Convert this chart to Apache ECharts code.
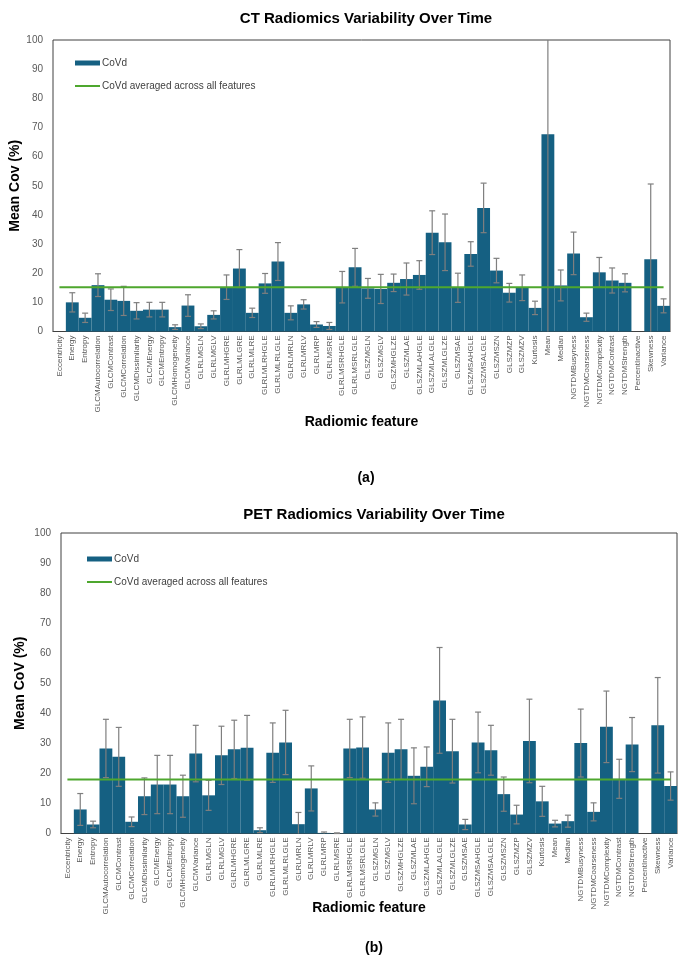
<!DOCTYPE html>
<html>
<head>
<meta charset="utf-8">
<script src="https://cdn.jsdelivr.net/npm/echarts@6/dist/echarts.min.js"></script>
<style>
html,body{margin:0;padding:0;background:#fff;}
#main{width:685px;height:962px;}
</style>
</head>
<body>
<div id="main"></div>
<script>
const categories = ["Eccentricity","Energy","Entropy","GLCMAutocorrelation","GLCMContrast","GLCMCorrelation","GLCMDissimilarity","GLCMEnergy","GLCMEntropy","GLCMHomogeneity","GLCMVariance","GLRLMGLN","GLRLMGLV","GLRLMHGRE","GLRLMLGRE","GLRLMLRE","GLRLMLRHGLE","GLRLMLRLGLE","GLRLMRLN","GLRLMRLV","GLRLMRP","GLRLMSRE","GLRLMSRHGLE","GLRLMSRLGLE","GLSZMGLN","GLSZMGLV","GLSZMHGLZE","GLSZMLAE","GLSZMLAHGLE","GLSZMLALGLE","GLSZMLGLZE","GLSZMSAE","GLSZMSAHGLE","GLSZMSALGLE","GLSZMSZN","GLSZMZP","GLSZMZV","Kurtosis","Mean","Median","NGTDMBusyness","NGTDMCoarseness","NGTDMComplexity","NGTDMContrast","NGTDMStrength","PercentInactive","Skewness","Variance"];

const ctValues = [null,10.0,4.7,15.9,10.9,10.5,7.1,7.5,7.5,1.5,8.9,1.8,5.7,15.2,21.6,6.4,16.5,24.0,6.4,9.3,2.4,1.9,15.2,22.0,14.8,14.6,16.7,18.0,19.4,33.9,30.6,15.0,26.6,42.4,20.9,13.3,15.0,8.1,67.7,15.8,26.8,4.9,20.3,17.5,16.7,null,24.8,8.8];
const ctErr = [null,3.3,1.6,3.9,3.7,5.0,2.8,2.5,2.5,0.8,3.7,0.8,1.4,4.2,6.5,1.6,3.4,6.5,2.4,1.6,1.0,1.2,5.4,6.5,3.4,5.0,3.0,5.5,4.9,7.5,9.7,5.0,4.2,8.5,4.2,3.2,4.4,2.3,70.0,5.3,7.3,1.4,5.1,4.3,3.1,null,25.8,2.4];
const ctAvg = 15.2;

const petValues = [null,8.0,3.0,28.3,25.5,3.9,12.4,16.3,16.3,12.4,26.6,12.7,26.0,28.0,28.5,1.1,26.9,30.3,3.1,15.0,0.2,0.1,28.3,28.6,8.0,26.9,28.0,19.2,22.2,44.3,27.4,3.0,30.3,27.7,13.1,6.3,30.8,10.7,3.3,4.1,30.1,7.2,35.5,18.2,29.6,null,36.0,15.8];
const petErr = [null,5.3,1.1,9.7,9.8,1.6,6.1,9.7,9.7,7.0,9.4,5.0,9.7,9.7,10.8,0.8,9.9,10.7,3.9,7.5,0.3,0.1,9.7,10.2,2.2,9.9,10.0,9.3,6.6,17.6,10.6,1.7,10.1,8.3,5.7,3.1,13.9,5.0,1.1,2.0,11.3,3.0,11.9,6.5,9.0,null,15.9,4.7];
const petAvg = 18.0;

const yTicks = [0,10,20,30,40,50,60,70,80,90,100];

const BAR = '#156082', GREEN = '#4EA72E', ERR = '#7F7F7F', TXT = '#595959';
const FONT = '"Liberation Sans", Arial, sans-serif';
const BAR_NAME = 'CoVd', LINE_NAME = 'CoVd averaged across all features';

function errRender(params, api) {
  const x = api.value(0), v = api.value(1), e = api.value(2);
  let hi = v + e, lo = v - e;
  const hiClip = hi > 100, loClip = lo < 0;
  hi = Math.min(100, hi); lo = Math.max(0, lo);
  const p1 = api.coord([x, hi]), p2 = api.coord([x, lo]);
  const w = 3;
  const style = {stroke: ERR, lineWidth: 1.2};
  const ch = [{type:'line', shape:{x1:p1[0], y1:p1[1], x2:p2[0], y2:p2[1]}, style}];
  if (!hiClip) ch.push({type:'line', shape:{x1:p1[0]-w, y1:p1[1], x2:p1[0]+w, y2:p1[1]}, style});
  if (!loClip) ch.push({type:'line', shape:{x1:p2[0]-w, y1:p2[1], x2:p2[0]+w, y2:p2[1]}, style});
  return {type:'group', children: ch};
}

function errData(vals, errs) {
  const out = [];
  vals.forEach((v, i) => { if (v != null && errs[i] != null) out.push([i, v, errs[i]]); });
  return out;
}

const chart = echarts.init(document.getElementById('main'), null, {renderer:'canvas'});

function xAxisCfg(gi, nameGap) {
  return {
    type:'category', gridIndex: gi, data: categories,
    name: 'Radiomic feature', nameLocation:'middle', nameGap: nameGap, nameMoveOverlap: false,
    nameTextStyle:{fontSize:14, fontWeight:'bold', color:'#000', fontFamily: FONT},
    axisLine:{show:true, lineStyle:{color:'#404040', width:1}},
    axisTick:{show:false},
    axisLabel:{interval:0, rotate:90, fontSize:8, color:TXT, margin:4, fontFamily: FONT},
    splitLine:{show:false}
  };
}
function yAxisCfg(gi, name, nameGap) {
  return {
    type:'value', gridIndex: gi, min: yTicks[0], max: yTicks[yTicks.length-1], interval: 10,
    name: name, nameLocation:'middle', nameGap: nameGap, nameRotate: 90, nameMoveOverlap: false,
    nameTextStyle:{fontSize:14, fontWeight:'bold', color:'#000', fontFamily: FONT},
    axisLine:{show:false}, axisTick:{show:false},
    axisLabel:{fontSize:10, color:TXT, margin:10, fontFamily: FONT},
    splitLine:{show:false}
  };
}
function legendPair(left, top) {
  const ts = {fontSize:10, color:'#404040', padding:[0,0,0,-3], fontFamily: FONT};
  return [
    {left:left, top:top, padding:0, itemWidth:25, itemHeight:5, icon:'rect', data:[BAR_NAME], textStyle: ts},
    {left:left, top:top+23, padding:0, itemWidth:25, itemHeight:2, icon:'rect', data:[LINE_NAME], textStyle: ts}
  ];
}

const option = {
  backgroundColor:'#fff',
  animation:false,
  textStyle:{fontFamily: FONT},
  title: [
    {text:'CT Radiomics Variability Over Time', left:361, top:6, textAlign:'center',
     textStyle:{fontSize:15, fontWeight:'bold', color:'#000'}},
    {text:'(a)', left:361, top:466, textAlign:'center', textStyle:{fontSize:14, fontWeight:'bold', color:'#000'}},
    {text:'PET Radiomics Variability Over Time', left:369, top:502, textAlign:'center',
     textStyle:{fontSize:15, fontWeight:'bold', color:'#000'}},
    {text:'(b)', left:369, top:936, textAlign:'center', textStyle:{fontSize:14, fontWeight:'bold', color:'#000'}}
  ],
  legend: legendPair(75, 58).concat(legendPair(87, 554)),
  grid: [
    {left:52, top:40, width:618, height:291.5, show:true, borderColor:'#404040', borderWidth:1, backgroundColor:'transparent'},
    {left:61, top:533, width:616, height:300.5, show:true, borderColor:'#404040', borderWidth:1, backgroundColor:'transparent'}
  ],
  xAxis: [xAxisCfg(0, 84), xAxisCfg(1, 68)],
  yAxis: [yAxisCfg(0, 'Mean Cov (%)', 31), yAxisCfg(1, 'Mean CoV (%)', 34)],
  series: [
    {name:BAR_NAME, type:'bar', xAxisIndex:0, yAxisIndex:0, data: ctValues,
     barCategoryGap:'0%', barGap:'0%', itemStyle:{color:BAR}, z:2},
    {type:'custom', xAxisIndex:0, yAxisIndex:0, renderItem: errRender, data: errData(ctValues, ctErr), z:3, silent:true},
    {name:LINE_NAME, type:'line', xAxisIndex:0, yAxisIndex:0,
     data: categories.map(() => ctAvg), symbol:'none', lineStyle:{color:GREEN, width:2}, itemStyle:{color:GREEN}, z:4},
    {name:BAR_NAME, type:'bar', xAxisIndex:1, yAxisIndex:1, data: petValues,
     barCategoryGap:'0%', barGap:'0%', itemStyle:{color:BAR}, z:2},
    {type:'custom', xAxisIndex:1, yAxisIndex:1, renderItem: errRender, data: errData(petValues, petErr), z:3, silent:true},
    {name:LINE_NAME, type:'line', xAxisIndex:1, yAxisIndex:1,
     data: categories.map(() => petAvg), symbol:'none', lineStyle:{color:GREEN, width:2}, itemStyle:{color:GREEN}, z:4}
  ]
};
chart.setOption(option);
</script>
</body>
</html>
